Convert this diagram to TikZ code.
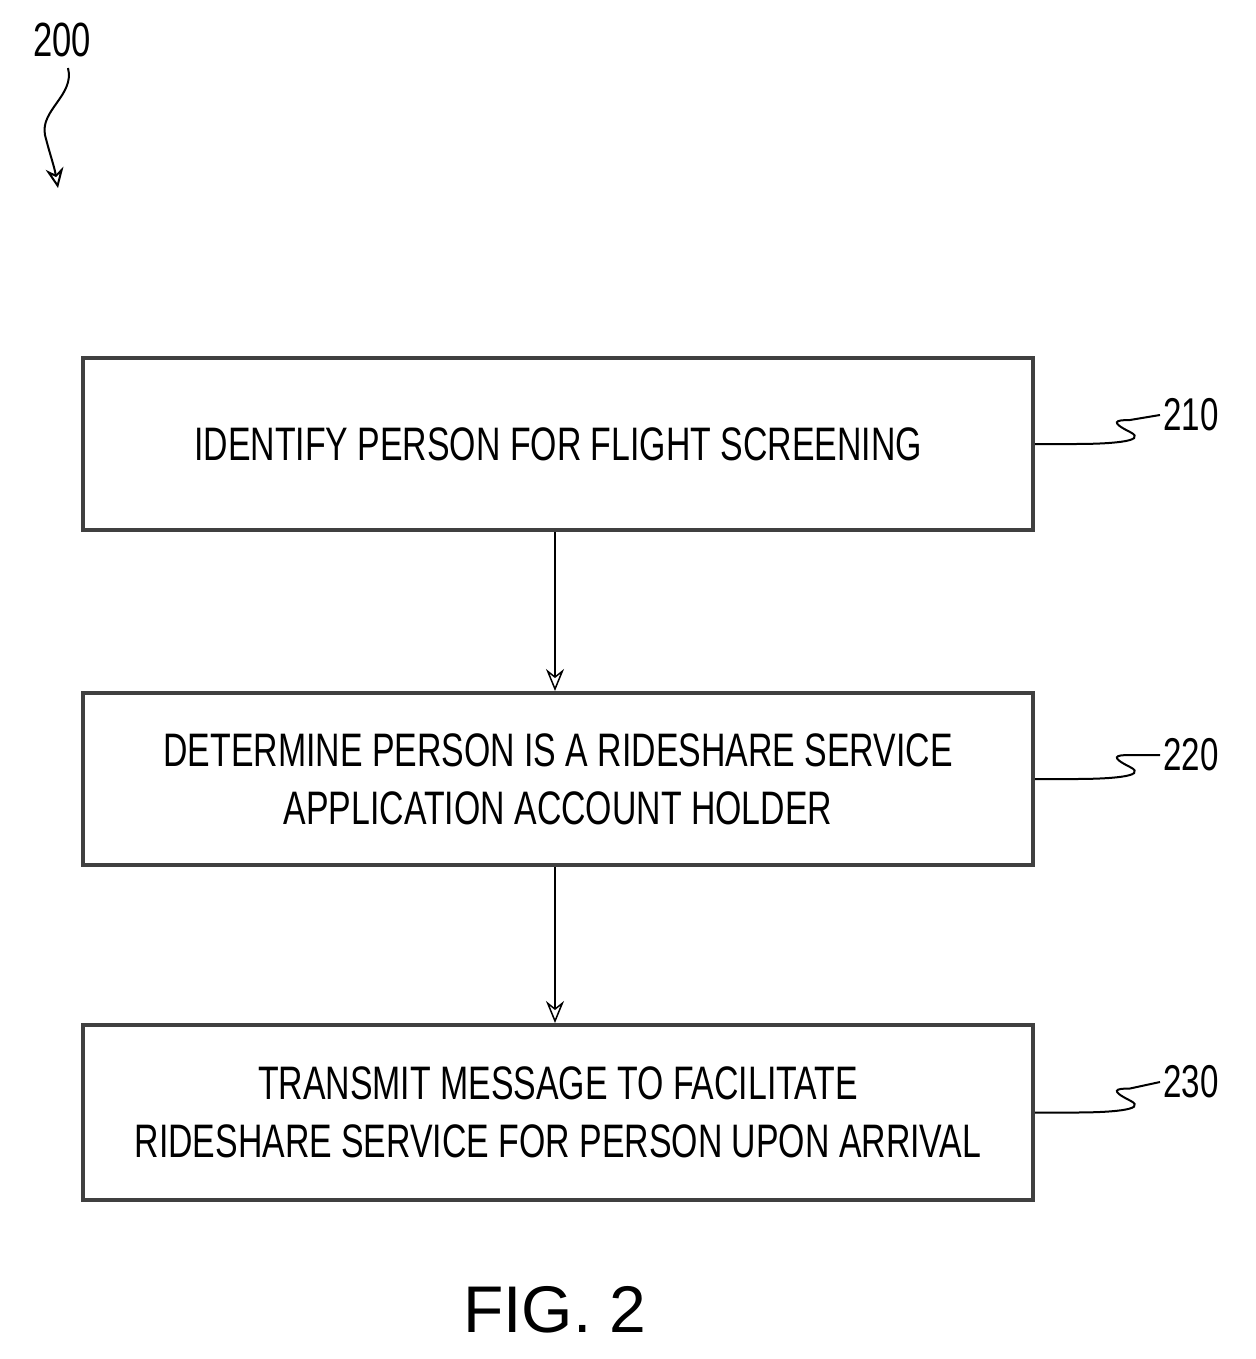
\documentclass[tikz,border=0pt]{standalone}
\usepackage{fontspec}
\setmainfont[FakeStretch=0.72]{Liberation Sans}
\newfontfamily\figfont{Liberation Sans}
\usetikzlibrary{arrows.meta}
\begin{document}
\begin{tikzpicture}[x=1pt,y=-1pt,
 box/.style={draw=black!75,line width=4pt,minimum width=950pt,anchor=north west,inner sep=0pt,align=center,font=\fontsize{47}{58}\selectfont},
 arr/.style={line width=1.5pt,-{Stealth[length=22pt,width=18pt,open]}},
 ref/.style={font=\fontsize{46}{50}\selectfont,anchor=west},
 sq/.style={line width=2pt}]
\useasboundingbox (0,0) rectangle (1255,1359);
\node[box,minimum height=172pt] (b1) at (81,356) {IDENTIFY PERSON FOR FLIGHT SCREENING};
\node[box,minimum height=172pt] (b2) at (81,691) {DETERMINE PERSON IS A RIDESHARE SERVICE\\APPLICATION ACCOUNT HOLDER};
\node[box,minimum height=175pt] (b3) at (81,1023) {TRANSMIT MESSAGE TO FACILITATE\\RIDESHARE SERVICE FOR PERSON UPON ARRIVAL};
\draw[arr] (b1.south -| 555,0) -- (b2.north -| 555,0);
\draw[arr] (b2.south -| 555,0) -- (b3.north -| 555,0);
\node[ref] (r1) at (1160,415) {210};
\node[ref] (r2) at (1160,755) {220};
\node[ref] (r3) at (1160,1082) {230};
\foreach \b/\r in {b1/r1,b2/r2,b3/r3}{
 \draw[sq] (\b.east) -- ++(40,0) .. controls +(30,0) and +(20,10) .. ++(55,-12) .. controls +(-20,-10) and +(-15,0) .. ++(0,-12) -- (\r.west);
}
\node[font=\fontsize{48}{50}\selectfont] (n200) at (62,40) {200};
\coordinate (t200) at (58,188);
\draw[line width=2pt,-{Stealth[length=20pt,width=18pt,open]}] (68,68) .. controls (75,95) and (40,110) .. (45,135) .. controls (50,155) and (54,165) .. (t200);
\node[font=\figfont\fontsize{66}{70}\selectfont] (fig) at (555,1310) {FIG. 2};
\end{tikzpicture}
\end{document}
